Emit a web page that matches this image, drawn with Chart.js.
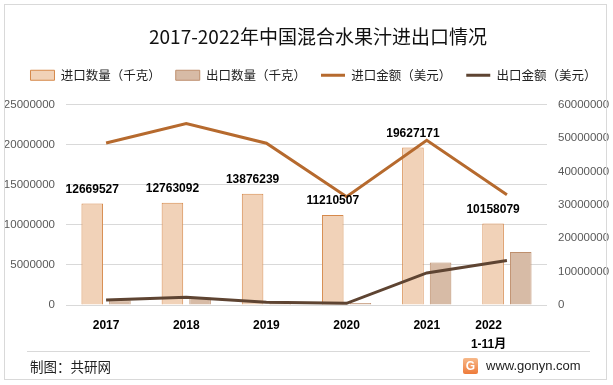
<!DOCTYPE html>
<html>
<head>
<meta charset="utf-8">
<script src="https://cdn.jsdelivr.net/npm/chart.js@4"></script>
<style>
  html, body { margin: 0; padding: 0; background: #fff; }
  #wrap { position: relative; width: 613px; height: 385px; overflow: hidden; font-family: "Noto Sans CJK SC", sans-serif; }
  #frame { position: absolute; left: 4px; top: 4px; width: 603px; height: 376px; border: 1px solid #d9d9d9; box-sizing: border-box; }
  #title { position: absolute; left: 0; width: 636px; top: 21px; text-align: center; font-size: 19px; color: #111; line-height: 30px; }
  #sep { position: absolute; left: 27px; width: 563px; top: 351px; border-top: 1px solid #d9d9d9; }
  #maker { position: absolute; left: 30px; top: 357px; font-size: 13.5px; color: #222; line-height: 18px; }
  #logo { position: absolute; left: 463px; top: 358px; width: 15px; height: 16px; border-radius: 2px;
          background: linear-gradient(#f7b98a, #ee7b3a); color: #fff; font: bold 12px "Liberation Sans", sans-serif; text-align: center; line-height: 16px; }
  #site { position: absolute; left: 486px; top: 357px; font: 13px "Liberation Sans", sans-serif; color: #222; line-height: 18px; }
  canvas { position: absolute; left: 0; top: 0; }
</style>
</head>
<body>
<div id="wrap">
  <canvas id="chart" width="613" height="385"></canvas>
  <div id="frame"></div>
  <div id="title">2017-2022年中国混合水果汁进出口情况</div>
  <div id="sep"></div>
  <div id="maker">制图：共研网</div>
  <div id="logo">G</div>
  <div id="site">www.gonyn.com</div>
</div>
<script>
// data
var years = ['2017', '2018', '2019', '2020', '2021', ['2022           ', '1-11月           ']];
var importQty = [12669527, 12763092, 13876239, 11210507, 19627171, 10158079];   // 千克
var exportQty = [600000, 950000, 350000, 250000, 5300000, 6600000];             // 千克
var importValue = [48500000, 54300000, 48400000, 32400000, 49300000, 33000000]; // 美元
var exportValue = [1500000, 2300000, 800000, 500000, 9600000, 13300000];        // 美元

var tickFont = { family: '"Liberation Sans", "Noto Sans CJK SC", sans-serif', size: 11.5 };
function plainNum(v) { return String(v); }

// value labels on top of the import bars
var barLabels = {
    id: 'barLabels',
    afterDatasetsDraw: function(chart) {
        var ctx = chart.ctx;
        var meta = chart.getDatasetMeta(0);
        ctx.save();
        ctx.font = 'bold 12px "Liberation Sans", sans-serif';
        ctx.fillStyle = '#000';
        ctx.textAlign = 'center';
        ctx.textBaseline = 'middle';
        meta.data.forEach(function(bar, i) {
            ctx.fillText(String(importQty[i]), bar.x, bar.y - 14);
        });
        ctx.restore();
    }
};

// extra room under the legend, and nudge it a bit to the right
var legendTweak = {
    id: 'legendTweak',
    beforeInit: function(chart) {
        var lg = chart.legend;
        var fit = lg.fit;
        var draw = lg.draw;
        lg.fit = function() {
            fit.call(this);
            this.height += 13;
        };
        lg.draw = function() {
            this.ctx.save();
            this.ctx.translate(7, 0);
            draw.call(this);
            this.ctx.restore();
        };
    }
};

var ctx = document.getElementById('chart').getContext('2d');
var chart = new Chart(ctx, {
    data: {
        labels: years,
        datasets: [
            { type: 'bar', label: '进口数量（千克）', data: importQty, yAxisID: 'y',
              backgroundColor: '#F1D2B8', borderColor: '#D6894B', borderWidth: 1,
              categoryPercentage: 0.69, barPercentage: 0.78, order: 1 },
            { type: 'bar', label: '出口数量（千克）', data: exportQty, yAxisID: 'y',
              backgroundColor: '#D7BBA6', borderColor: '#BE8F6D', borderWidth: 1,
              categoryPercentage: 0.69, barPercentage: 0.78, order: 1 },
            { type: 'line', label: '进口金额（美元）', data: importValue, yAxisID: 'y1',
              borderColor: '#B66A2E', backgroundColor: '#B66A2E', borderWidth: 3,
              pointRadius: 0, tension: 0, order: 0 },
            { type: 'line', label: '出口金额（美元）', data: exportValue, yAxisID: 'y1',
              borderColor: '#5E4432', backgroundColor: '#5E4432', borderWidth: 3,
              pointRadius: 0, tension: 0, order: 0 }
        ]
    },
    options: {
        responsive: false,
        animation: false,
        layout: { padding: { top: 54, left: 0, right: 0, bottom: 0 } },
        plugins: {
            title: { display: false },
            tooltip: { enabled: false },
            legend: {
                position: 'top',
                labels: {
                    usePointStyle: true,
                    pointStyleWidth: 24,
                    boxHeight: 10,
                    padding: 15,
                    color: '#222',
                    font: { family: '"Noto Sans CJK SC", sans-serif', size: 12.5 },
                    generateLabels: function(chart) {
                        var items = Chart.defaults.plugins.legend.labels.generateLabels(chart);
                        items.forEach(function(it) {
                            it.pointStyle = chart.data.datasets[it.datasetIndex].type === 'line' ? 'line' : 'rect';
                        });
                        return items.sort(function(a, b) { return a.datasetIndex - b.datasetIndex; });
                    }
                }
            }
        },
        scales: {
            x: {
                grid: { display: false },
                border: { display: false },
                ticks: { color: '#000', padding: 3, maxRotation: 0,
                         font: { family: '"Liberation Sans", "Noto Sans CJK SC", sans-serif', size: 12, weight: 'bold', lineHeight: 1.6 } },
                afterFit: function(axis) { axis.height = 80; }
            },
            y: {
                position: 'left',
                min: 0, max: 25000000,
                ticks: { stepSize: 5000000, color: '#595959', padding: 11, font: tickFont, callback: plainNum },
                grid: { color: '#d9d9d9', drawTicks: false },
                border: { display: false },
                afterFit: function(axis) { axis.width = 66; }
            },
            y1: {
                position: 'right',
                min: 0, max: 60000000,
                ticks: { stepSize: 10000000, color: '#595959', padding: 11, font: tickFont, callback: plainNum },
                grid: { display: false, drawTicks: false },
                border: { display: false },
                afterFit: function(axis) { axis.width = 66; }
            }
        }
    },
    plugins: [barLabels, legendTweak]
});
console.log('chartArea', JSON.stringify(chart.chartArea));
</script>
</body>
</html>
